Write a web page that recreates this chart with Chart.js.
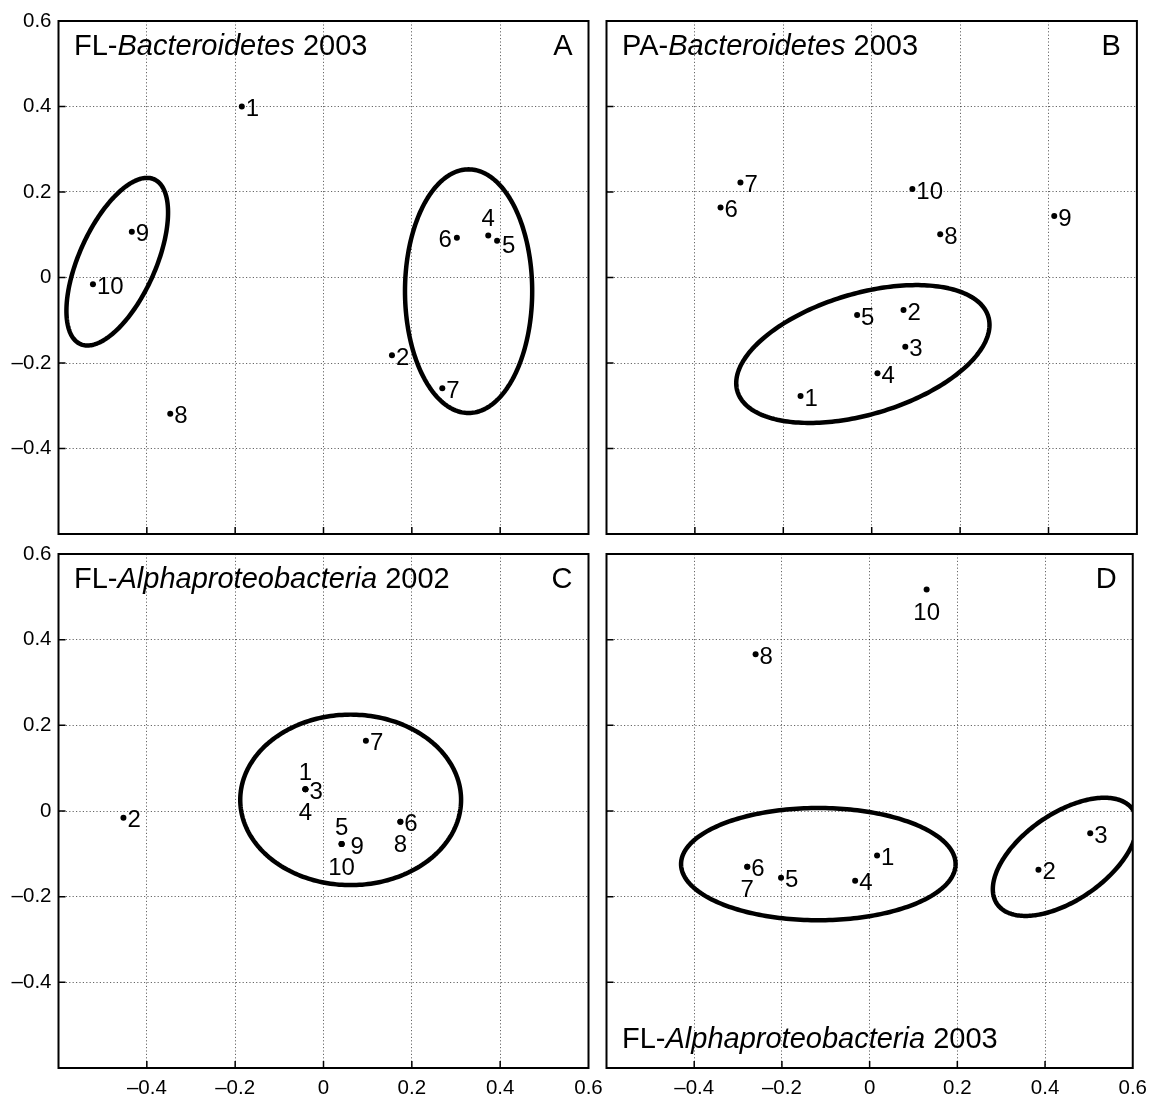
<!DOCTYPE html>
<html>
<head>
<meta charset="utf-8">
<title>Ordination plots</title>
<script src="https://cdn.jsdelivr.net/npm/chart.js@4.4.1/dist/chart.umd.min.js"></script>
<style>
  html, body { margin: 0; padding: 0; background: #fff; }
  #wrap { position: relative; width: 1155px; height: 1096px; overflow: hidden; }
  #wrap canvas { position: absolute; left: 0; top: 0; }
</style>
</head>
<body>
<div id="wrap">
  <canvas id="pA" width="1155" height="1096"></canvas>
  <canvas id="pB" width="1155" height="1096"></canvas>
  <canvas id="pC" width="1155" height="1096"></canvas>
  <canvas id="pD" width="1155" height="1096"></canvas>
</div>
<script>
// ---------------- data ----------------
// Axis ticks shared by all four panels
const tickValues = [-0.6, -0.4, -0.2, 0, 0.2, 0.4, 0.6];

// A: FL-Bacteroidetes 2003
const aLabels = ['1', '2', '4', '5', '6', '7', '8', '9', '10'];
const aX = [-0.185, 0.155, 0.373, 0.393, 0.302, 0.269, -0.347, -0.434, -0.522];
const aY = [0.400, -0.182, 0.098, 0.086, 0.093, -0.259, -0.319, 0.107, -0.016];
// cluster ellipses: [centre x, centre y, semi-axis a, semi-axis b, rotation deg]
const aRings = [[-0.467, 0.037, 0.210, 0.087, 66.8], [0.3285, -0.032, 0.285, 0.144, 90]];

// B: PA-Bacteroidetes 2003
const bLabels = ['1', '2', '3', '4', '5', '6', '7', '8', '9', '10'];
const bX = [-0.161, 0.072, 0.076, 0.013, -0.033, -0.342, -0.297, 0.155, 0.413, 0.092];
const bY = [-0.277, -0.076, -0.162, -0.224, -0.088, 0.164, 0.222, 0.101, 0.144, 0.207];
const bRings = [[-0.020, -0.179, 0.297, 0.141, 17.4]];

// C: FL-Alphaproteobacteria 2002
const cLabels = ['1', '2', '3', '4', '5', '6', '7', '8', '9', '10'];
const cX = [-0.041, -0.453, -0.041, -0.041, 0.041, 0.174, 0.096, 0.174, 0.041, 0.041];
const cY = [0.051, -0.016, 0.051, 0.051, -0.077, -0.025, 0.164, -0.025, -0.077, -0.077];
const cRings = [[0.0615, 0.026, 0.250, 0.199, 0]];

// D: FL-Alphaproteobacteria 2003
const dLabels = ['1', '2', '3', '4', '5', '6', '7', '8', '10'];
const dX = [0.017, 0.385, 0.503, -0.033, -0.202, -0.279, -0.279, -0.260, 0.130];
const dY = [-0.104, -0.137, -0.052, -0.163, -0.156, -0.130, -0.130, 0.366, 0.517];
const dRings = [[-0.117, -0.124, 0.313, 0.131, 0], [0.4455, -0.107, 0.190, 0.100, 36]];

// ---------------- styling / layout ----------------
const FONT = '"Liberation Sans", Arial, Helvetica, sans-serif';
const TITLE_SIZE = 29, LABEL_SIZE = 24, TICK_SIZE = 20.5;

// where each point number sits relative to its dot: r(ight), l(eft), t(op), b(ottom)
const placement = {
  A: ['r', 'r', 't', 'r5', 'l', 'r', 'r', 'r', 'r'],
  B: ['r', 'r', 'r', 'r', 'r', 'r', 'r', 'r', 'r', 'r'],
  C: ['t', 'r', 'r', 'b', 't', 'r', 'r', 'b', 'r9', 'b'],
  D: ['r', 'r', 'r', 'r', 'r', 'r', 'b', 'r', 'b']
};

// plot-area frames on the page (pixels)
const frames = {
  A: { left: 58.5, right: 588.5, top: 21, bottom: 534, yLabels: true,  xLabels: false },
  B: { left: 606.5, right: 1136.9, top: 21, bottom: 534, yLabels: false, xLabels: false },
  C: { left: 58.5, right: 588.5, top: 554, bottom: 1068, yLabels: true,  xLabels: true },
  D: { left: 606.5, right: 1136.9, top: 554, bottom: 1068, yLabels: false, xLabels: true }
};

const titles = {
  A: { parts: [['FL-', false], ['Bacteroidetes', true], [' 2003', false]], letter: 'A', bottom: false },
  B: { parts: [['PA-', false], ['Bacteroidetes', true], [' 2003', false]], letter: 'B', bottom: false },
  C: { parts: [['FL-', false], ['Alphaproteobacteria', true], [' 2002', false]], letter: 'C', bottom: false },
  D: { parts: [['FL-', false], ['Alphaproteobacteria', true], [' 2003', false]], letter: 'D', bottom: true }
};

function tickText(v) {
  const r = Math.round(v * 10) / 10;
  if (r <= -0.55) return null;
  if (r === 0) return '0';
  return r < 0 ? '\u2013' + (-r).toFixed(1) : r.toFixed(1);
}

// Draws ellipses, frame, inward ticks, point numbers and panel titles
const panelDecor = {
  id: 'panelDecor',
  afterDatasetsDraw(chart, args, opts) {
    const { ctx, chartArea: ca } = chart;
    const xs = chart.scales.x, ys = chart.scales.y;

    // cluster ellipses, clipped to the plot area
    ctx.save();
    ctx.beginPath();
    ctx.rect(ca.left, ca.top, ca.right - ca.left, ca.bottom - ca.top);
    ctx.clip();
    ctx.strokeStyle = '#000';
    ctx.lineWidth = 4.5;
    ctx.lineJoin = 'round';
    for (const [cx, cy, a, b, deg] of opts.rings) {
      const t = deg * Math.PI / 180, c = Math.cos(t), s = Math.sin(t);
      ctx.beginPath();
      const n = 240;
      for (let i = 0; i <= n; i++) {
        const u = i / n * 2 * Math.PI;
        const ex = a * Math.cos(u), ey = b * Math.sin(u);
        const px = xs.getPixelForValue(cx + ex * c - ey * s);
        const py = ys.getPixelForValue(cy + ex * s + ey * c);
        if (i === 0) ctx.moveTo(px, py); else ctx.lineTo(px, py);
      }
      ctx.closePath();
      ctx.stroke();
    }
    ctx.restore();

    ctx.save();
    // frame
    ctx.strokeStyle = '#000';
    ctx.lineWidth = 2;
    ctx.strokeRect(ca.left, ca.top, ca.right - ca.left, ca.bottom - ca.top);

    // inward tick marks on left and bottom edges
    ctx.lineWidth = 1.5;
    ctx.beginPath();
    xs.ticks.forEach(tk => {
      if (Math.abs(Math.abs(tk.value) - 0.6) < 1e-6) return;
      const px = xs.getPixelForValue(tk.value);
      ctx.moveTo(px, ca.bottom);
      ctx.lineTo(px, ca.bottom - 7);
    });
    ys.ticks.forEach(tk => {
      if (Math.abs(Math.abs(tk.value) - 0.6) < 1e-6) return;
      const py = ys.getPixelForValue(tk.value);
      ctx.moveTo(ca.left, py);
      ctx.lineTo(ca.left + 7, py);
    });
    ctx.stroke();

    // point numbers
    ctx.fillStyle = '#000';
    ctx.font = LABEL_SIZE + 'px ' + FONT;
    ctx.textBaseline = 'alphabetic';
    const half = 0.358 * LABEL_SIZE; // half the digit height
    const meta = chart.getDatasetMeta(0);
    meta.data.forEach((pt, i) => {
      const lab = opts.labels[i];
      const pl = opts.place[i];
      let x = pt.x, y = pt.y;
      if (pl[0] === 'r') {
        ctx.textAlign = 'left';
        x += pl.length > 1 ? +pl.slice(1) : 4;
        y += (pl === 'r5' ? 4 : 1);
      } else if (pl === 'l') {
        ctx.textAlign = 'right';
        x -= 5; y += 1;
      } else if (pl === 't') {
        ctx.textAlign = 'center';
        y -= 18;
      } else {
        ctx.textAlign = 'center';
        y += 22;
      }
      ctx.fillText(lab, x, y + half);
    });

    // panel title with italic taxon name, and panel letter
    const ttl = opts.title;
    const base = ttl.bottom ? ca.bottom - 20 : ca.top + 34;
    let tx = ca.left + 15.5;
    ctx.textAlign = 'left';
    for (const [txt, it] of ttl.parts) {
      ctx.font = (it ? 'italic ' : '') + TITLE_SIZE + 'px ' + FONT;
      ctx.fillText(txt, tx, base);
      tx += ctx.measureText(txt).width;
    }
    ctx.font = TITLE_SIZE + 'px ' + FONT;
    ctx.textAlign = 'right';
    ctx.fillText(ttl.letter, ca.right - 16, ca.top + 34);
    ctx.restore();
  }
};

function axisOptions(axis, showLabels, size) {
  return {
    type: 'linear',
    min: -0.6,
    max: 0.6,
    afterBuildTicks(scale) { scale.ticks = tickValues.map(v => ({ value: v })); },
    afterFit(scale) {
      if (axis === 'y') scale.width = size; else scale.height = size;
    },
    ticks: {
      display: showLabels,
      autoSkip: false,
      maxRotation: 0,
      padding: axis === 'y' ? 7 : 8,
      color: '#000',
      font: { family: FONT, size: TICK_SIZE },
      callback: tickText
    },
    grid: {
      drawTicks: false,
      drawOnChartArea: true,
      color: 'rgba(0,0,0,0.6)',
      lineWidth: 1
    },
    border: { display: false, dash: [1.2, 2.2] }
  };
}

function makePanel(id, key, xs, ys, labels, rings) {
  const f = frames[key];
  const pts = xs.map((x, i) => ({ x: x, y: ys[i] }));
  new Chart(document.getElementById(id), {
    type: 'scatter',
    data: {
      datasets: [{
        data: pts,
        pointRadius: 3,
        pointHoverRadius: 3,
        pointBackgroundColor: '#000',
        pointBorderWidth: 0
      }]
    },
    options: {
      responsive: false,
      animation: false,
      events: [],
      layout: {
        padding: {
          left: f.yLabels ? 0 : f.left,
          right: 1155 - f.right,
          top: f.top,
          bottom: f.xLabels ? 0 : 1096 - f.bottom
        }
      },
      scales: {
        x: axisOptions('x', f.xLabels, f.xLabels ? 1096 - f.bottom : 0),
        y: axisOptions('y', f.yLabels, f.yLabels ? f.left : 0)
      },
      plugins: {
        legend: { display: false },
        tooltip: { enabled: false },
        panelDecor: { rings: rings, labels: labels, place: placement[key], title: titles[key] }
      }
    },
    plugins: [panelDecor]
  });
}

makePanel('pA', 'A', aX, aY, aLabels, aRings);
makePanel('pB', 'B', bX, bY, bLabels, bRings);
makePanel('pC', 'C', cX, cY, cLabels, cRings);
makePanel('pD', 'D', dX, dY, dLabels, dRings);
</script>
</body>
</html>
